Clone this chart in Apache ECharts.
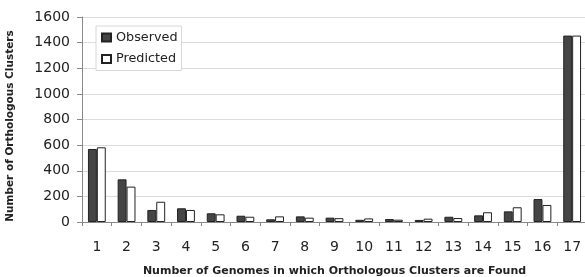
<!DOCTYPE html>
<html>
<head>
<meta charset="utf-8">
<script src="https://cdn.jsdelivr.net/npm/echarts@6/dist/echarts.min.js"></script>
<style>html,body{margin:0;padding:0;background:#fff;}#c{width:585px;height:277px;}</style>
</head>
<body>
<div id="c"></div>
<script>
const categories = ['1','2','3','4','5','6','7','8','9','10','11','12','13','14','15','16','17'];
const observed = [570, 333, 94, 107, 68, 49, 21, 44, 34, 17, 23, 16, 41, 52, 83, 179, 1455];
const predicted = [583, 276, 158, 94, 60, 41, 44, 34, 30, 28, 18, 26, 31, 76, 115, 133, 1455];
const yTicks = [0, 200, 400, 600, 800, 1000, 1200, 1400, 1600];

const chart = echarts.init(document.getElementById('c'), null, {renderer: 'canvas'});
const font = '"DejaVu Sans", Verdana, sans-serif';
chart.setOption({
  animation: false,
  backgroundColor: '#fff',
  grid: {left: 82, right: -2, top: 17, bottom: 55, containLabel: false, outerBoundsMode: 'none'},
  legend: {
    orient: 'vertical', left: 96, top: 26,
    backgroundColor: '#fff', borderColor: '#d8d8d8', borderWidth: 1,
    padding: [5, 4, 5, 5], itemGap: 8.5,
    itemWidth: 9, itemHeight: 8, icon: 'rect',
    textStyle: {fontFamily: font, fontSize: 12.8, color: '#222'},
    data: ['Observed', 'Predicted']
  },
  graphic: [{
    type: 'text', x: 10.5, y: 126, rotation: Math.PI / 2,
    style: {text: 'Number of Orthologous Clusters', fontFamily: font, fontSize: 10.5,
      fontWeight: 'bold', fill: '#222', align: 'center', verticalAlign: 'middle'}
  }],
  xAxis: {
    type: 'category', data: categories,
    name: 'Number of Genomes in which Orthologous Clusters are Found',
    nameLocation: 'middle', nameGap: 44,
    nameTextStyle: {fontFamily: font, fontSize: 11, fontWeight: 'bold', color: '#222'},
    axisLine: {lineStyle: {color: '#888', width: 1}},
    axisTick: {show: true, length: 4, lineStyle: {color: '#888'}},
    axisLabel: {fontFamily: font, fontSize: 14, color: '#222', margin: 18}
  },
  yAxis: {
    type: 'value', min: 0, max: 1600, interval: 200,
    axisLine: {show: true, lineStyle: {color: '#888', width: 1}},
    axisTick: {show: true, length: 5, lineStyle: {color: '#888'}},
    axisLabel: {fontFamily: font, fontSize: 14, color: '#222', margin: 12,
      formatter: v => yTicks.includes(v) ? String(v) : ''},
    splitLine: {lineStyle: {color: '#dcdcdc', width: 1}}
  },
  series: [
    {name: 'Observed', type: 'bar', data: observed, barGap: '0%', barCategoryGap: '40%',
     itemStyle: {color: '#454545', borderColor: '#222', borderWidth: 1}},
    {name: 'Predicted', type: 'bar', data: predicted,
     itemStyle: {color: '#ffffff', borderColor: '#222', borderWidth: 1}}
  ]
});
</script>
</body>
</html>
